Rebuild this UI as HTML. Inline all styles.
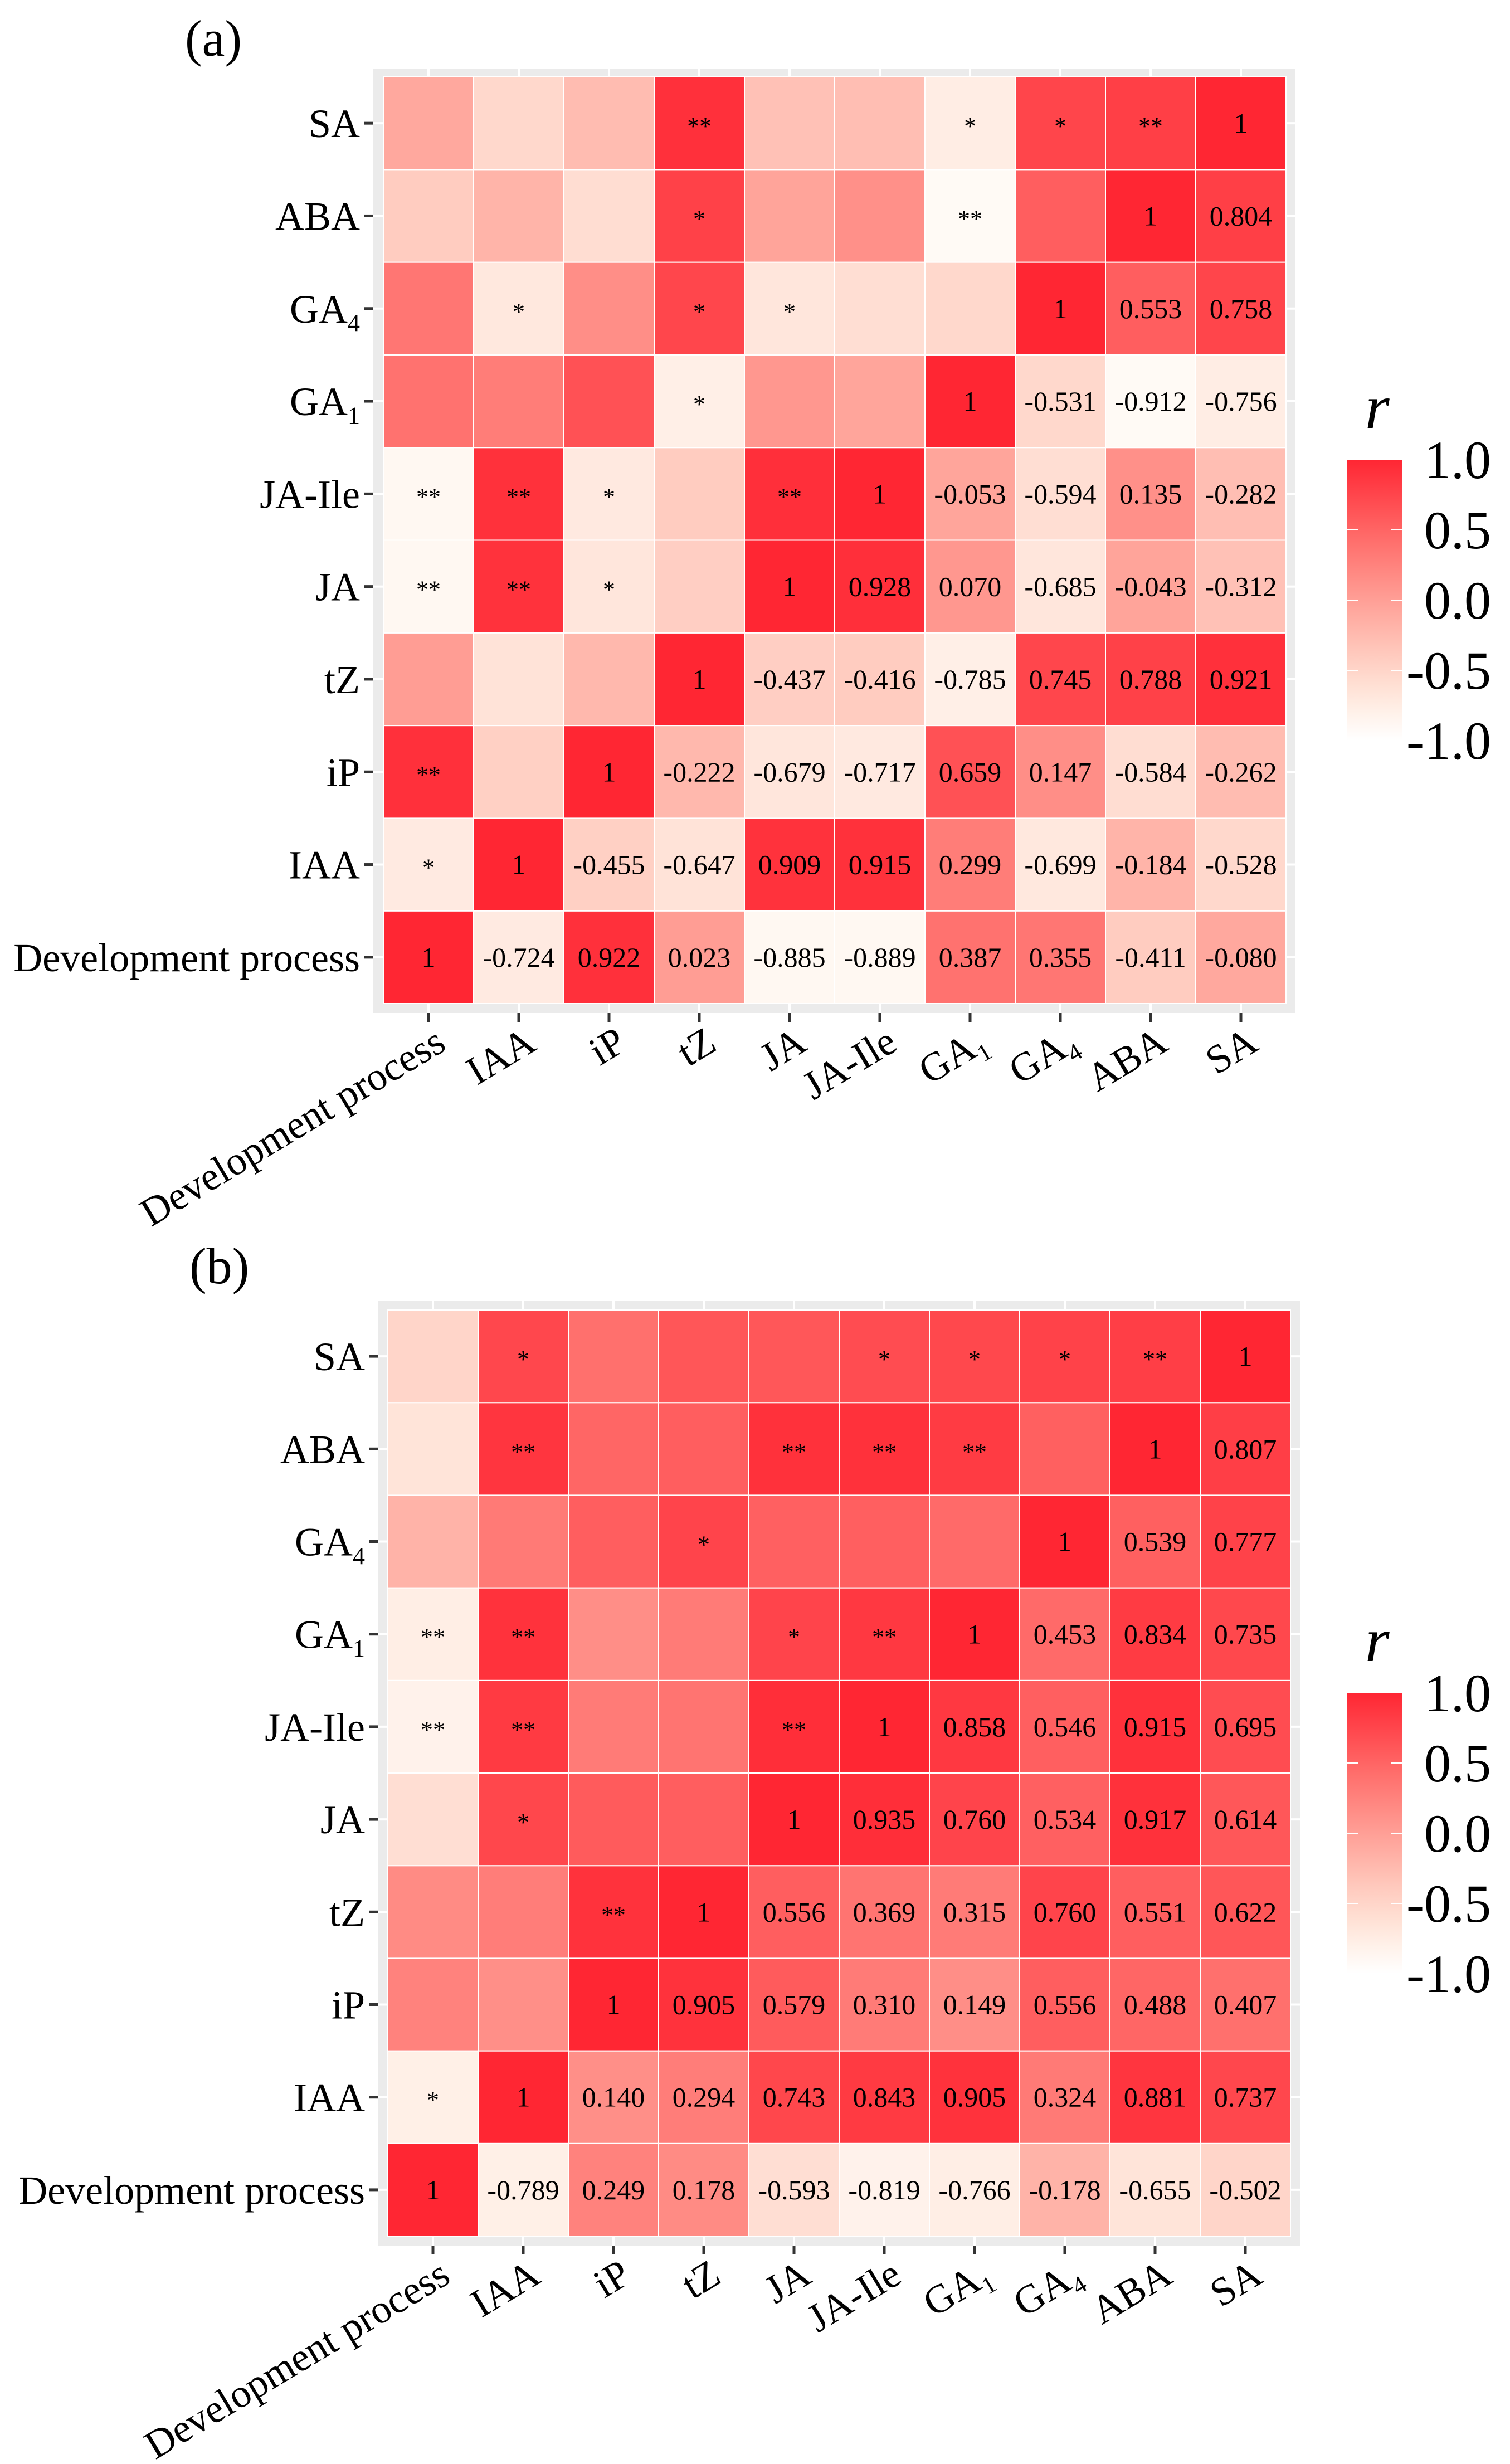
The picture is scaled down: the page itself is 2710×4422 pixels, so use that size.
<!DOCTYPE html>
<html><head><meta charset="utf-8"><style>
html,body{margin:0;padding:0;background:#fff;}
svg{display:block;font-family:"Liberation Serif",serif;}
</style></head>
<body>
<svg id="fig" xmlns="http://www.w3.org/2000/svg" width="2710" height="4422" viewBox="0 0 2710 4422"></svg>
<script>
const categories = ["Development process","IAA","iP","tZ","JA","JA-Ile","GA1","GA4","ABA","SA"];
// lower triangle values, row j lists columns j..9
const valuesA = [
 [1,-0.724,0.922,0.023,-0.885,-0.889,0.387,0.355,-0.411,-0.080],
 [1,-0.455,-0.647,0.909,0.915,0.299,-0.699,-0.184,-0.528],
 [1,-0.222,-0.679,-0.717,0.659,0.147,-0.584,-0.262],
 [1,-0.437,-0.416,-0.785,0.745,0.788,0.921],
 [1,0.928,0.070,-0.685,-0.043,-0.312],
 [1,-0.053,-0.594,0.135,-0.282],
 [1,-0.531,-0.912,-0.756],
 [1,0.553,0.758],
 [1,0.804],
 [1]
];
const valuesB = [
 [1,-0.789,0.249,0.178,-0.593,-0.819,-0.766,-0.178,-0.655,-0.502],
 [1,0.140,0.294,0.743,0.843,0.905,0.324,0.881,0.737],
 [1,0.905,0.579,0.310,0.149,0.556,0.488,0.407],
 [1,0.556,0.369,0.315,0.760,0.551,0.622],
 [1,0.935,0.760,0.534,0.917,0.614],
 [1,0.858,0.546,0.915,0.695],
 [1,0.453,0.834,0.735],
 [1,0.539,0.777],
 [1,0.807],
 [1]
];
// significance marks in upper-left cells: row j, entries for columns 0..j-1
const starsA = [
 [],
 ["*"],
 ["**",""],
 ["","",""],
 ["**","**","*",""],
 ["**","**","*","","**"],
 ["","","","*","",""],
 ["","*","","*","*","",""],
 ["","","","*","","","**",""],
 ["","","","**","","","*","*","**"]
];
const starsB = [
 [],
 ["*"],
 ["",""],
 ["","","**"],
 ["","*","",""],
 ["**","**","","","**"],
 ["**","**","","","*","**"],
 ["","","","*","","",""],
 ["","**","","","**","**","**",""],
 ["","*","","","","*","*","*","**"]
];
const legendTicks = [1.0,0.5,0.0,-0.5,-1.0];
const legendTickLabels = ["1.0","0.5","0.0","-0.5","-1.0"];

const NS="http://www.w3.org/2000/svg";
const svg=document.getElementById('fig');
function mk(tag,attrs,parent){const e=document.createElementNS(NS,tag);for(const k in attrs)e.setAttribute(k,attrs[k]);(parent||svg).appendChild(e);return e;}
function color(v){const t=(v+1)/2;const g=Math.round(255-217*Math.pow(t,1.18)),b=Math.round(255-204*Math.pow(t,0.96));return `rgb(255,${g},${b})`;}
function fmt(v){return v===1?"1":v.toFixed(3);}
function labelText(el,name,sub){
  if(name==="GA1"||name==="GA4"){
    el.appendChild(document.createTextNode("GA"));
    const ts=document.createElementNS(NS,'tspan');ts.setAttribute('font-size',sub);ts.setAttribute('dy',sub*0.35);ts.textContent=name[2];el.appendChild(ts);
  } else el.textContent=name;
}
function drawPanel(cfg){
  const {letter,vals,stars,tx,ty,w,h,gx0,gy0,gx1,gy1,ly}=cfg;
  const n=categories.length;
  const M=[];for(let j=0;j<n;j++){M.push([]);}
  for(let j=0;j<n;j++)for(let i=j;i<n;i++){M[j][i]=vals[j][i-j];M[i][j]=vals[j][i-j];}
  const xC=i=>tx+(i+0.5)*w;
  const yC=j=>ty+(n-1-j+0.5)*h;
  const g=mk('g',{});
  
  
  const bg=mk('rect',{x:gx0,y:gy0,width:gx1-gx0,height:gy1-gy0,fill:'#EBEBEB'},g);
  
  
  for(let i=0;i<n;i++){mk('line',{x1:xC(i),x2:xC(i),y1:gy0,y2:gy1,stroke:'#fff','stroke-width':4},g);mk('line',{x1:gx0,x2:gx1,y1:yC(i),y2:yC(i),stroke:'#fff','stroke-width':4},g);}
  for(let j=0;j<n;j++)for(let i=0;i<n;i++){
    const v=M[j][i];
    const r=mk('rect',{x:tx+i*w,y:ty+(n-1-j)*h,width:w,height:h,fill:color(v),stroke:'#fff','stroke-width':2},g);
    
    
    let s=null;
    if(i>=j){s=fmt(v);} else if(stars[j][i]){s=stars[j][i];}
    if(s){const t=mk('text',{x:xC(i),y:yC(j)+(i>=j?17:20),'text-anchor':'middle','font-size':i>=j?50:44,fill:'#000'},g);t.textContent=s;
      
      }
  }
  for(let j=0;j<n;j++){
    mk('rect',{x:gx0-17,y:yC(j)-2.5,width:17,height:5,fill:'#333'},g);
    const t=mk('text',{x:gx0-24,y:yC(j)+25,'text-anchor':'end','font-size':72,fill:'#000'},g);
    labelText(t,categories[j],44);
    
    
  }
  for(let i=0;i<n;i++){
    mk('rect',{x:xC(i)-2.5,y:gy1,width:5,height:16,fill:'#333'},g);
    const t=mk('text',{transform:`translate(${xC(i)+8},${gy1+20}) rotate(-31)`,'text-anchor':'end',dy:'0.72em','font-size':72,fill:'#000'},g);
    labelText(t,categories[i],44);
    
    
  }
  const pl=mk('text',{x:letter==='a'?332:340,y:ly,'font-size':92,fill:'#000'},g);
  pl.textContent='('+letter+')';
  
  
  const lg=mk('g',{},g);
  
  
  const top=ty+687, step=126;
  const ly0=v=>top+(1-v)/0.5*step;
  const id='grad'+letter;
  const defs=mk('defs',{},lg);const gr=mk('linearGradient',{id:id,x1:0,y1:0,x2:0,y2:1},defs);
  for(let k=0;k<=10;k++){const v=1-k*0.2;mk('stop',{offset:k/10,'stop-color':color(v)},gr);}
  mk('rect',{x:2418,y:ly0(1),width:98,height:ly0(-1)-ly0(1),fill:`url(#${id})`},lg);
  const title=mk('text',{x:2450,y:ly0(1)-57,'font-size':112,'font-style':'italic',fill:'#000'},lg);
  title.textContent='r';
  
  
  legendTicks.forEach((v,k)=>{
    const y=ly0(v);
    if(k>0&&k<legendTicks.length-1){mk('line',{x1:2418,x2:2438,y1:y,y2:y,stroke:'#fff','stroke-width':2},lg);mk('line',{x1:2496,x2:2516,y1:y,y2:y,stroke:'#fff','stroke-width':2},lg);}
    const t=mk('text',{x:2676,y:y+33,'text-anchor':'end','font-size':96,fill:'#000'},lg);
    t.textContent=legendTickLabels[k];
    
    
  });
}
drawPanel({letter:'a',vals:valuesA,stars:starsA,tx:688,ty:138,w:162,h:166.3,gx0:670,gy0:124,gx1:2324,gy1:1818,ly:100});
drawPanel({letter:'b',vals:valuesB,stars:starsB,tx:696,ty:2351,w:162,h:166.2,gx0:679,gy0:2334,gx1:2333,gy1:4030,ly:2303});
</script>
</body></html>
